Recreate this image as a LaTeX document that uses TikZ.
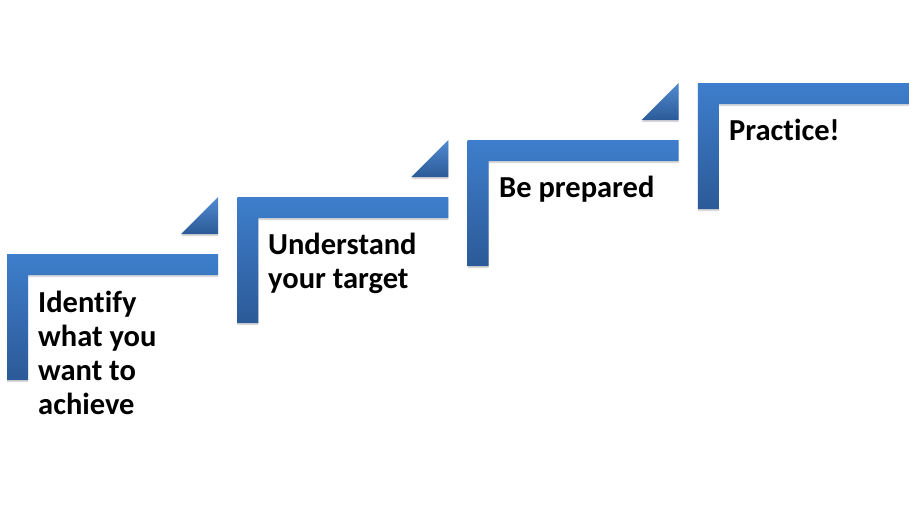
\documentclass[tikz,border=0pt]{standalone}
\usepackage{fontspec}
\setmainfont{Carlito}[Ligatures=NoCommon]
\usetikzlibrary{shadows}
\definecolor{stepTop}{RGB}{62,126,204}
\definecolor{stepBot}{RGB}{44,90,152}
\tikzset{
  stepshape/.style={top color=stepTop, bottom color=stepBot, draw=none,
    drop shadow={shadow xshift=0pt, shadow yshift=-2pt, opacity=0.25, fill=black!60}},
  steptri/.style={top color=stepTop!90, bottom color=stepBot, draw=none,
    drop shadow={shadow xshift=0pt, shadow yshift=-2pt, opacity=0.25, fill=black!60}},
  steptext/.style={anchor=base west, align=left, inner sep=0pt,
    font=\bfseries\fontsize{30.5}{34}\selectfont, text=black}
}
\begin{document}
\begin{tikzpicture}[x=1pt,y=-1pt]
\useasboundingbox (0,0) rectangle (915,525);
\foreach \i in {0,1,2,3}{
  \pgfmathsetmacro{\L}{7+230.3*\i}
  \pgfmathsetmacro{\T}{254-57*\i}
  \shade[stepshape] (\L,\T) -- (\L+211,\T) -- (\L+211,\T+21) -- (\L+21,\T+21)
     -- (\L+21,\T+126) -- (\L,\T+126) -- cycle;
}
\foreach \i in {0,1,2}{
  \pgfmathsetmacro{\L}{7+230.3*\i}
  \pgfmathsetmacro{\T}{254-57*\i}
  \shade[steptri] (\L+211,\T-57) -- (\L+211,\T-20) -- (\L+174,\T-20) -- cycle;
}
\node[steptext] (t1) at (38,414) {Identify\\what you\\want to\\achieve};
\node[steptext] (t2) at (268,288) {Understand\\your target};
\node[steptext] (t3) at (499,197) {Be prepared};
\node[steptext] (t4) at (729,140) {Practice!};
\end{tikzpicture}
\end{document}
